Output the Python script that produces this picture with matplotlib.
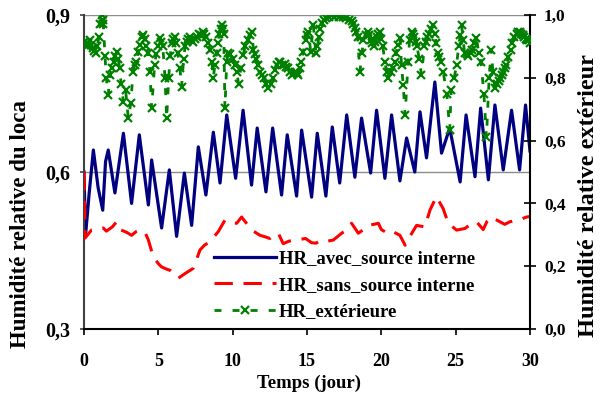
import matplotlib
matplotlib.use("Agg")
import matplotlib.pyplot as plt

plt.rcParams['font.family'] = ['Liberation Serif', 'DejaVu Serif']
plt.rcParams['font.weight'] = 'bold'

# ---- data ----
blue_t = [0.0, 0.1, 0.35, 0.63, 0.95, 1.26, 1.45, 1.63, 2.08, 2.65, 3.2, 3.72, 4.33, 4.55,
          5.22, 5.74, 6.23, 6.75, 7.24, 7.69, 8.2, 8.7, 9.15, 9.6, 10.2, 10.7, 11.27, 11.65,
          12.24, 12.69, 13.29, 13.67, 14.3, 14.64, 15.31, 15.69, 16.27, 16.7, 17.2, 17.67,
          18.22, 18.67, 19.28, 19.68, 20.24, 20.69, 21.25, 21.7, 22.25, 22.6, 23.04, 23.6,
          24.05, 24.6, 25.3, 25.7, 26.3, 26.68, 27.2, 27.64, 28.2, 28.76, 29.3, 29.7, 30.0]
blue_v = [0.60, 0.478, 0.56, 0.642, 0.57, 0.527, 0.62, 0.642, 0.56, 0.674, 0.54, 0.671, 0.537, 0.623,
          0.493, 0.604, 0.477, 0.598, 0.498, 0.648, 0.556, 0.676, 0.579, 0.709, 0.588, 0.718, 0.575, 0.684,
          0.562, 0.684, 0.556, 0.671, 0.554, 0.68, 0.552, 0.674, 0.554, 0.686, 0.579, 0.709,
          0.59, 0.703, 0.598, 0.718, 0.588, 0.709, 0.583, 0.665, 0.60, 0.715, 0.627, 0.772,
          0.636, 0.684, 0.581, 0.709, 0.591, 0.722, 0.585, 0.728, 0.604, 0.718, 0.604, 0.728, 0.64]

red_t = [0.0, 0.08, 0.5, 0.9, 1.3, 1.5, 1.9, 2.2, 2.5, 2.85, 3.2, 3.5, 3.77, 4.1, 4.33, 4.66,
         5.0, 5.2, 5.5, 5.8, 6.1, 6.34, 6.8, 7.35, 7.6, 7.8, 8.1, 8.47, 9.03, 9.48, 9.9, 10.27,
         10.6, 10.9, 11.28, 11.84, 12.2, 12.5, 12.8, 13.07, 13.4, 13.8, 14.3, 14.9, 15.3, 15.6,
         16.0, 16.4, 16.77, 17.33, 17.7, 18.0, 18.45, 18.8, 19.1, 19.5, 19.8, 20.0, 20.3, 20.58,
         21.25, 21.6, 21.9, 22.37, 22.93, 23.27, 23.7, 24.16, 24.5, 25.06, 25.62, 26.0, 26.4,
         26.85, 27.1, 27.4, 27.97, 28.3, 28.65, 29.0, 29.4, 29.77, 30.0]
red_v = [0.60, 0.474, 0.489, 0.49, 0.493, 0.487, 0.495, 0.505, 0.489, 0.485, 0.479, 0.486, 0.489, 0.485, 0.47, 0.438,
         0.425, 0.419, 0.415, 0.412, 0.405, 0.397, 0.406, 0.416, 0.435, 0.451, 0.46, 0.467, 0.486, 0.508, 0.503, 0.502,
         0.514, 0.503, 0.489, 0.479, 0.476, 0.473, 0.48, 0.483, 0.463, 0.468, 0.47, 0.473, 0.465, 0.464,
         0.47, 0.468, 0.47, 0.483, 0.49, 0.502, 0.483, 0.49, 0.498, 0.5, 0.502, 0.49, 0.485, 0.489,
         0.479, 0.46, 0.476, 0.498, 0.495, 0.527, 0.553, 0.53, 0.502, 0.489, 0.492, 0.5, 0.505,
         0.49, 0.505, 0.514, 0.505, 0.50, 0.505, 0.507, 0.51, 0.514, 0.515]

green_t = [0.0, 0.1, 0.2, 0.3, 0.4, 0.5, 0.63, 0.7, 0.8, 0.9, 1.0, 1.1, 1.19, 1.25, 1.3, 1.41, 1.5,
           1.63, 1.75, 1.9, 2.0, 2.1, 2.2, 2.3, 2.4, 2.5, 2.65, 2.8, 2.98, 3.15, 3.3, 3.4, 3.5,
           3.65, 3.75, 3.87, 4.0, 4.1, 4.2, 4.3, 4.44, 4.55, 4.75, 4.85, 4.95, 5.1, 5.2, 5.3, 5.45,
           5.56, 5.7, 5.8, 5.9, 6.0, 6.1, 6.2, 6.3, 6.46, 6.56, 6.7, 6.8, 6.9, 7.0, 7.1, 7.2, 7.3,
           7.45, 7.6, 7.75, 7.9, 8.0, 8.1, 8.2, 8.35, 8.47, 8.6, 8.7, 8.8, 8.93, 9.0, 9.1, 9.2,
           9.26, 9.35, 9.4, 9.48, 9.6, 9.7, 9.85, 10.0, 10.15, 10.27, 10.4, 10.55, 10.7, 10.85,
           11.0, 11.15, 11.27, 11.4, 11.5, 11.6, 11.72, 11.84, 12.0, 12.1, 12.25, 12.4, 12.55,
           12.7, 12.85, 12.96, 13.1, 13.2, 13.35, 13.5, 13.6, 13.7, 13.85, 13.96, 14.1, 14.2, 14.3,
           14.4, 14.5, 14.6, 14.75, 14.9, 15.0, 15.1, 15.25, 15.42, 15.6, 15.7, 15.8, 15.9, 16.0,
           16.15, 16.3, 16.5, 16.66, 16.8, 17.0, 17.15, 17.3, 17.45, 17.6, 17.8, 18.0, 18.1, 18.2,
           18.3, 18.4, 18.56, 18.7, 18.8, 18.95, 19.1, 19.2, 19.3, 19.4, 19.5, 19.6, 19.7, 19.8,
           19.9, 20.0, 20.1, 20.24, 20.35, 20.47, 20.65, 20.8, 20.9, 21.0, 21.1, 21.25, 21.36,
           21.47, 21.6, 21.8, 21.9, 22.04, 22.1, 22.2, 22.3, 22.4, 22.55, 22.7, 22.9, 23.0, 23.1,
           23.2, 23.35, 23.5, 23.6, 23.7, 23.8, 23.9, 24.0, 24.16, 24.4, 24.6, 24.7, 24.9, 25.06,
           25.2, 25.3, 25.4, 25.5, 25.6, 25.75, 25.85, 26.0, 26.1, 26.25, 26.4, 26.55, 26.7, 26.9,
           27.07, 27.25, 27.4, 27.5, 27.64, 27.8, 27.9, 28.0, 28.1, 28.2, 28.3, 28.4, 28.55, 28.7,
           28.8, 28.95, 29.1, 29.2, 29.3, 29.4, 29.5, 29.6, 29.7, 29.8, 29.9, 30.0]
green_v = [0.915, 0.905, 0.90, 0.91, 0.92, 0.905, 0.894, 0.885, 0.88, 0.90, 0.93, 0.97, 1.0, 0.985, 0.97, 0.87, 0.80,
           0.745, 0.81, 0.83, 0.85, 0.87, 0.883, 0.86, 0.83, 0.78, 0.724, 0.76, 0.671, 0.72, 0.82, 0.84, 0.85,
           0.883, 0.905, 0.93, 0.935, 0.925, 0.90, 0.88, 0.82, 0.703, 0.84, 0.875, 0.9, 0.926, 0.915, 0.9, 0.80,
           0.671, 0.80, 0.87, 0.91, 0.925, 0.93, 0.91, 0.88, 0.83, 0.77, 0.86, 0.90, 0.915, 0.925, 0.93, 0.92, 0.915,
           0.925, 0.93, 0.94, 0.935, 0.947, 0.94, 0.93, 0.91, 0.89, 0.85, 0.80, 0.84, 0.88, 0.91, 0.94, 0.955,
           0.968, 0.955, 0.94, 0.703, 0.85, 0.88, 0.875, 0.86, 0.84, 0.82, 0.78, 0.83, 0.873, 0.90,
           0.92, 0.935, 0.947, 0.89, 0.875, 0.86, 0.84, 0.82, 0.81, 0.80, 0.78, 0.767, 0.78,
           0.80, 0.825, 0.84, 0.85, 0.85, 0.84, 0.845, 0.835, 0.83, 0.82, 0.81, 0.815, 0.82, 0.815,
           0.81, 0.83, 0.85, 0.883, 0.92, 0.935, 0.947, 0.883, 0.968, 0.88, 0.90, 0.93, 0.955, 0.975,
           0.985, 0.99, 0.995, 1.0, 0.995, 1.0, 0.995, 1.0, 0.995, 0.99, 0.985, 0.98, 0.97, 0.96,
           0.945, 0.93, 0.82, 0.88, 0.92, 0.935, 0.947, 0.935, 0.92, 0.91, 0.9, 0.915, 0.93, 0.94,
           0.947, 0.925, 0.90, 0.85, 0.82, 0.80, 0.82, 0.83, 0.85, 0.88, 0.905, 0.926, 0.84,
           0.777, 0.682, 0.85, 0.92, 0.947, 0.94, 0.93, 0.915, 0.9, 0.86, 0.81, 0.9, 0.915, 0.93,
           0.94, 0.955, 0.968, 0.94, 0.91, 0.88, 0.865, 0.85, 0.82, 0.75, 0.635, 0.76, 0.80, 0.84,
           0.90, 0.935, 0.968, 0.92, 0.88, 0.875, 0.87, 0.88, 0.89, 0.91, 0.926, 0.88, 0.85, 0.75,
           0.61, 0.80, 0.89, 0.82, 0.767, 0.78, 0.79, 0.80, 0.81, 0.82, 0.83, 0.84, 0.865, 0.89,
           0.91, 0.93, 0.94, 0.947, 0.945, 0.94, 0.935, 0.93, 0.925, 0.92, 0.92, 0.91]

x_ticks = [0, 5, 10, 15, 20, 25, 30]
y_left_ticks = [0.3, 0.6, 0.9]
y_left_labels = ['0,3', '0,6', '0,9']
y_right_ticks = [0.0, 0.2, 0.4, 0.6, 0.8, 1.0]
y_right_labels = ['0,0', '0,2', '0,4', '0,6', '0,8', '1,0']

labels = ['HR_avec_source interne', 'HR_sans_source interne', 'HR_extérieure']
xlabel = 'Temps (jour)'
ylabel_left = 'Humidité relative du loca'
ylabel_right = 'Humidité relative extérieur'

# ---- figure ----
W, H = 600, 401
fig = plt.figure(figsize=(W / 100, H / 100), dpi=100)
ax = fig.add_axes([84 / W, 1 - 329 / H, (530 - 84) / W, (329 - 15) / H])
ax2 = ax.twinx()

ax.set_xlim(0, 30)
ax.set_ylim(0.3, 0.9)
ax2.set_ylim(0.0, 1.0)

for yv in [0.6, 0.9]:
    ax.axhline(yv, color='#8c8c8c', lw=1.0, zorder=0)

l1, = ax.plot(blue_t, blue_v, color='#000080', lw=2.3, solid_joinstyle='round', zorder=2)
l2, = ax.plot(red_t, red_v, color='#ff0000', lw=2.2, dashes=(6, 3.5), zorder=3)
l3, = ax2.plot(green_t, green_v, color='#008000', lw=2.0, dashes=(2.5, 4), marker='x',
               markersize=6, markeredgewidth=1.6, zorder=4)

ax.set_xticks(x_ticks)
ax.set_xticklabels([str(v) for v in x_ticks])
ax.set_yticks(y_left_ticks)
ax.set_yticklabels(y_left_labels)
ax2.set_yticks(y_right_ticks)
ax2.set_yticklabels(y_right_labels)

ax.tick_params(axis='x', direction='out', length=4, width=1.2, pad=13, labelsize=13)
ax.tick_params(axis='y', direction='out', length=3, width=1.2, pad=7, labelsize=14.5,
               colors='#404040', labelcolor='black')
ax2.tick_params(axis='y', direction='inout', length=8, width=1.2, pad=6, labelsize=12.5)

ax.spines['top'].set_visible(False)
ax2.spines['top'].set_visible(False)
ax2.spines['left'].set_visible(False)
ax2.spines['bottom'].set_visible(False)
ax.spines['right'].set_visible(False)
ax.spines['left'].set_color('#404040')
ax.spines['left'].set_linewidth(1.5)
ax.spines['bottom'].set_linewidth(1.5)
ax2.spines['right'].set_linewidth(1.5)

fig.text(309 / W, 1 - 383 / H, xlabel, ha='center', va='center', fontsize=13.5, fontweight='bold')
fig.text(21 / W, 1 - 348 / H, ylabel_left, ha='center', va='bottom', rotation=90, fontsize=16.5, fontweight='bold')
fig.text(589 / W, 1 - 337 / H, ylabel_right, ha='center', va='bottom', rotation=90, fontsize=17.5, fontweight='bold')

leg = fig.legend([l1, l2, l3], labels, loc='upper left', bbox_to_anchor=(214 / W, 1 - 250 / H),
                 frameon=False, fontsize=13.5, handlelength=3.3, handletextpad=0.15,
                 labelspacing=0.5, borderpad=0, borderaxespad=0, numpoints=1)

fig.savefig('out.png', dpi=100)
